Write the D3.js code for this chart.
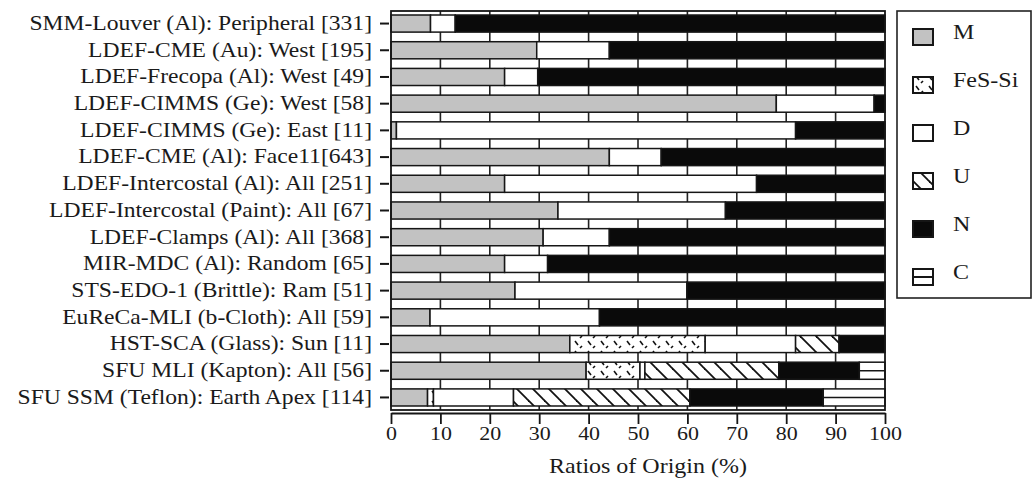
<!DOCTYPE html>
<html>
<head>
<meta charset="utf-8">
<script src="https://cdn.jsdelivr.net/npm/d3@7"></script>
<style>
  body { margin: 0; background: #fff; }
  text { font-family: "Liberation Serif", "Times New Roman", serif; fill: #1a1a1a; }
</style>
</head>
<body>
<script>
// 数据
var categories = [
  "SMM-Louver (Al): Peripheral [331]",
  "LDEF-CME (Au): West [195]",
  "LDEF-Frecopa (Al): West [49]",
  "LDEF-CIMMS (Ge): West [58]",
  "LDEF-CIMMS (Ge): East [11]",
  "LDEF-CME (Al): Face11[643]",
  "LDEF-Intercostal (Al): All [251]",
  "LDEF-Intercostal (Paint): All [67]",
  "LDEF-Clamps (Al): All [368]",
  "MIR-MDC (Al): Random [65]",
  "STS-EDO-1 (Brittle): Ram [51]",
  "EuReCa-MLI (b-Cloth): All [59]",
  "HST-SCA (Glass): Sun [11]",
  "SFU MLI (Kapton): All [56]",
  "SFU SSM (Teflon): Earth Apex [114]"
];
var keys = ["M", "FeS-Si", "D", "U", "N", "C"];
var valM   = [8, 29.5, 23, 78, 1.1, 44.2, 23, 33.8, 30.8, 23, 25.1, 7.9, 36.2, 39.5, 7.4];
var valFeS = [0, 0, 0, 0, 0, 0, 0, 0, 0, 0, 0, 0, 27.4, 10.9, 1.2];
var valD   = [5, 14.7, 6.7, 19.8, 80.8, 10.5, 51, 33.9, 13.4, 8.7, 34.8, 34.3, 18.3, 1, 16.2];
var valU   = [0, 0, 0, 0, 0, 0, 0, 0, 0, 0, 0, 0, 8.8, 27.1, 35.7];
var valN   = [87, 55.8, 70.3, 2.2, 18.1, 45.3, 26, 32.3, 55.8, 68.3, 40.1, 57.8, 9.3, 16.3, 27];
var valC   = [0, 0, 0, 0, 0, 0, 0, 0, 0, 0, 0, 0, 0, 5.2, 12.5];
var xTicks = [0, 10, 20, 30, 40, 50, 60, 70, 80, 90, 100];

var table = categories.map(function (c, i) {
  return { name: c, "M": valM[i], "FeS-Si": valFeS[i], "D": valD[i], "U": valU[i], "N": valN[i], "C": valC[i] };
});

var width = 1035;
var height = 484;
var plot = { left: 391, right: 885, top: 11, bottom: 410 };
var stretch = 1.18; // 原图字体横向偏宽

var svg = d3.select("body")
  .append("svg")
  .attr("width", width)
  .attr("height", height);

// 图案
var defs = svg.append("defs");
var pU = defs.append("pattern")
  .attr("id", "patU")
  .attr("patternUnits", "userSpaceOnUse")
  .attr("width", 16).attr("height", 16);
pU.append("rect").attr("width", 16).attr("height", 16).attr("fill", "#fff");
pU.selectAll("line")
  .data([[0, 0, 16, 16], [-8, 8, 8, 24], [8, -8, 24, 8]])
  .enter().append("line")
  .attr("x1", function (d) { return d[0]; })
  .attr("y1", function (d) { return d[1]; })
  .attr("x2", function (d) { return d[2]; })
  .attr("y2", function (d) { return d[3]; })
  .attr("stroke", "#111").attr("stroke-width", 1.8);

var pF = defs.append("pattern")
  .attr("id", "patF")
  .attr("patternUnits", "userSpaceOnUse")
  .attr("width", 13).attr("height", 10);
pF.append("rect").attr("width", 13).attr("height", 10).attr("fill", "#fff");
pF.selectAll("line")
  .data([[3, 1, 6, 5], [8, 8, 10, 6]])
  .enter().append("line")
  .attr("x1", function (d) { return d[0]; })
  .attr("y1", function (d) { return d[1]; })
  .attr("x2", function (d) { return d[2]; })
  .attr("y2", function (d) { return d[3]; })
  .attr("stroke", "#111").attr("stroke-width", 1.6);

var fills = {
  "M": "#c2c2c2",
  "FeS-Si": "url(#patF)",
  "D": "#ffffff",
  "U": "url(#patU)",
  "N": "#0a0a0a",
  "C": "#ffffff"
};

var x = d3.scaleLinear().domain([0, 100]).range([plot.left, plot.right]);
var y = d3.scaleBand().domain(categories)
  .range([plot.top, plot.bottom])
  .paddingInner(0.36)
  .paddingOuter(0.15);

// 背景和网格
svg.append("rect")
  .attr("x", plot.left).attr("y", plot.top)
  .attr("width", plot.right - plot.left)
  .attr("height", plot.bottom - plot.top)
  .attr("fill", "#fff");
svg.selectAll("line.grid")
  .data(xTicks.slice(1, -1))
  .enter().append("line")
  .attr("class", "grid")
  .attr("x1", function (d) { return x(d); })
  .attr("x2", function (d) { return x(d); })
  .attr("y1", plot.top).attr("y2", plot.bottom)
  .attr("stroke", "#222").attr("stroke-width", 1.6);

// 堆叠柱
var series = d3.stack().keys(keys)(table);
var groups = svg.selectAll("g.series")
  .data(series)
  .enter().append("g")
  .attr("class", "series");

groups.selectAll("rect")
  .data(function (s) {
    return s.filter(function (d) { return d[1] - d[0] > 0; })
      .map(function (d) { return { key: s.key, d: d }; });
  })
  .enter().append("rect")
  .attr("x", function (o) { return x(o.d[0]); })
  .attr("y", function (o) { return y(o.d.data.name); })
  .attr("width", function (o) { return x(o.d[1]) - x(o.d[0]); })
  .attr("height", y.bandwidth())
  .attr("fill", function (o) { return fills[o.key]; })
  .attr("stroke", "#161616")
  .attr("stroke-width", 1.5);

// C 中线
svg.selectAll("line.cmid")
  .data(series[5].filter(function (d) { return d[1] - d[0] > 0; }))
  .enter().append("line")
  .attr("class", "cmid")
  .attr("x1", function (d) { return x(d[0]); })
  .attr("x2", function (d) { return x(d[1]); })
  .attr("y1", function (d) { return y(d.data.name) + y.bandwidth() / 2; })
  .attr("y2", function (d) { return y(d.data.name) + y.bandwidth() / 2; })
  .attr("stroke", "#161616").attr("stroke-width", 1.5);

// 边框
svg.append("rect")
  .attr("x", plot.left).attr("y", plot.top)
  .attr("width", plot.right - plot.left)
  .attr("height", plot.bottom - plot.top)
  .attr("fill", "none")
  .attr("stroke", "#161616").attr("stroke-width", 1.8);

// 坐标轴
var xAxis = svg.append("g")
  .attr("transform", "translate(0," + (plot.bottom + 3) + ")")
  .call(d3.axisBottom(x).tickValues(xTicks).tickSize(11).tickSizeOuter(0).tickPadding(3));
xAxis.select(".domain").attr("stroke", "#161616").attr("stroke-width", 1.8);
xAxis.selectAll(".tick line").attr("stroke", "#161616").attr("stroke-width", 1.8);
xAxis.selectAll("text")
  .attr("font-size", "18px").attr("fill", "#1a1a1a")
  .attr("transform", "scale(1.22,1)")
  .style("font-family", "'Liberation Serif', serif");

var yAxis = svg.append("g")
  .attr("transform", "translate(" + (plot.left - 2) + ",0)")
  .call(d3.axisLeft(y).tickSize(9).tickPadding(8));
yAxis.select(".domain").remove();
yAxis.selectAll(".tick line").attr("stroke", "#161616").attr("stroke-width", 2);
yAxis.selectAll("text")
  .attr("font-size", "20px").attr("fill", "#1a1a1a")
  .attr("x", -17 / stretch)
  .attr("transform", "scale(" + stretch + ",1)")
  .style("font-family", "'Liberation Serif', serif");

svg.append("g")
  .attr("transform", "translate(648,473)")
  .append("text")
  .attr("text-anchor", "middle")
  .attr("font-size", "20px")
  .attr("transform", "scale(1.2,1)")
  .text("Ratios of Origin (%)");

// 图例
var legend = svg.append("g");
legend.append("rect")
  .attr("x", 897).attr("y", 11)
  .attr("width", 134).attr("height", 287)
  .attr("fill", "#fff")
  .attr("stroke", "#222").attr("stroke-width", 1.6);

var item = legend.selectAll("g.item")
  .data(keys)
  .enter().append("g")
  .attr("class", "item")
  .attr("transform", function (d, i) { return "translate(913," + (37 + i * 48) + ")"; });
item.append("rect")
  .attr("x", 0).attr("y", -8)
  .attr("width", 20).attr("height", 16)
  .attr("fill", function (d) { return fills[d]; })
  .attr("stroke", "#161616").attr("stroke-width", 2);
item.filter(function (d) { return d === "C"; })
  .append("line")
  .attr("x1", 0).attr("x2", 20).attr("y1", 0).attr("y2", 0)
  .attr("stroke", "#161616").attr("stroke-width", 2);
item.append("text")
  .attr("x", 40 / 1.2).attr("y", 0)
  .attr("dy", "0.1em")
  .attr("font-size", "20px")
  .attr("transform", "scale(1.2,1)")
  .text(function (d) { return d; });
</script>
</body>
</html>
